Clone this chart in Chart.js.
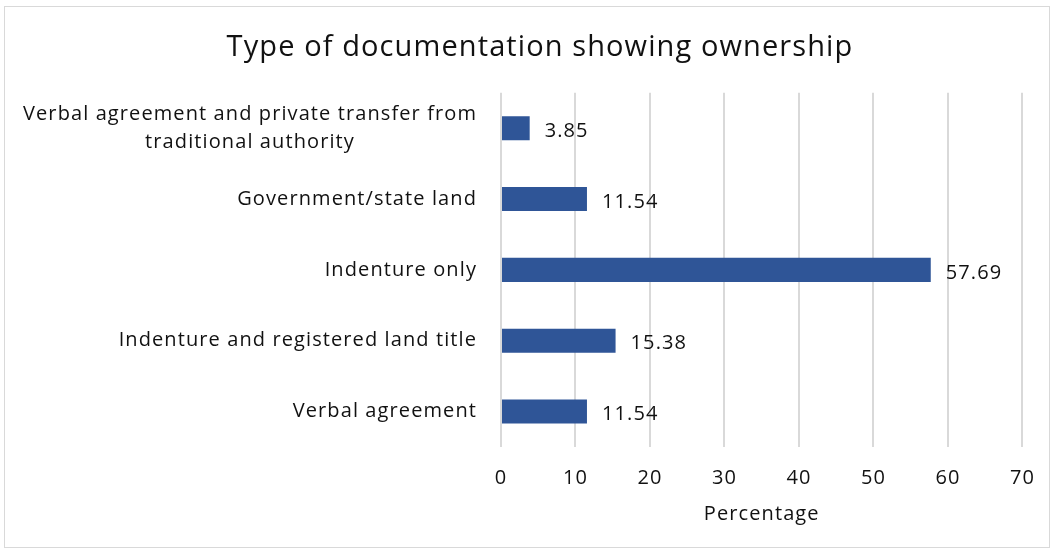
<!DOCTYPE html>
<html>
<head>
<meta charset="utf-8">
<script src="https://cdn.jsdelivr.net/npm/chart.js@4/dist/chart.umd.min.js"></script>
<style>
  html,body{margin:0;padding:0;background:#fff;}
  #wrap{position:absolute;left:0;top:0;width:1054px;height:552px;}
  #frame{position:absolute;left:4px;top:6px;width:1046px;height:542px;border:1px solid #d9d9d9;box-sizing:border-box;pointer-events:none;}
</style>
</head>
<body>
<div id="wrap"><canvas id="c" width="1054" height="552"></canvas></div>
<div id="frame"></div>
<script>
// ── data ──
var categories=[
  ['Verbal agreement and private transfer from','traditional authority'],
  ['Government/state land'],
  ['Indenture only'],
  ['Indenture and registered land title'],
  ['Verbal agreement']
];
var values=[3.85,11.54,57.69,15.38,11.54];
var xTicks=[0,10,20,30,40,50,60,70];

var FONT='"Open Sans", sans-serif';
var BAR='#2f5597';
var SPACING='1.1px';

/* the reference text is a little wider than Open Sans, so open it up a touch */
var spacing={
  id:'spacing',
  beforeLayout:function(ch){ch.ctx.letterSpacing=SPACING;},
  beforeDraw:function(ch){ch.ctx.letterSpacing=SPACING;}
};

/* category labels: single lines right-aligned, wrapped lines centred on each other */
var catLabels={
  id:'catLabels',
  afterDraw:function(ch){
    var ys=ch.scales.y,ctx=ch.ctx,right=477,lh=28;
    ctx.save();
    ctx.letterSpacing=SPACING;
    ctx.font='20px '+FONT;ctx.fillStyle='#111';ctx.textBaseline='middle';
    categories.forEach(function(lines,i){
      var yc=ys.getPixelForValue(i);
      var w=Math.max.apply(null,lines.map(function(s){return ctx.measureText(s).width;}));
      var cx=right-w/2;
      lines.forEach(function(s,k){
        var y=yc+(k-(lines.length-1)/2)*lh;
        ctx.textAlign='center';
        ctx.fillText(s,cx,y);
      });
    });
    ctx.restore();
  }
};

/* value labels just past the end of each bar */
var valLabels={
  id:'valLabels',
  afterDatasetsDraw:function(ch){
    var ctx=ch.ctx,meta=ch.getDatasetMeta(0);
    ctx.save();
    ctx.letterSpacing=SPACING;
    ctx.font='20px '+FONT;ctx.fillStyle='#111';ctx.textAlign='left';ctx.textBaseline='middle';
    meta.data.forEach(function(b,i){
      ctx.fillText(values[i].toFixed(2),b.x+15,b.y+3);
    });
    ctx.restore();
  }
};

new Chart(document.getElementById('c'),{
  type:'bar',
  data:{
    labels:categories.map(function(l){return l.join(' ');}),
    datasets:[{data:values,backgroundColor:BAR,borderWidth:0,categoryPercentage:1,barPercentage:0.34}]
  },
  options:{
    indexAxis:'y',
    responsive:false,
    animation:false,
    layout:{padding:{left:53,right:27,top:0,bottom:0}},
    plugins:{
      legend:{display:false},
      tooltip:{enabled:false},
      title:{display:true,text:'Type of documentation showing ownership',color:'#111',
        font:{family:FONT,size:29,weight:'normal'},padding:{top:30,bottom:28}}
    },
    scales:{
      x:{
        min:0,max:70,
        afterBuildTicks:function(s){s.ticks=xTicks.map(function(v){return{value:v};});},
        grid:{color:'#d9d9d9',lineWidth:2,drawTicks:false},
        border:{display:false},
        ticks:{color:'#111',font:{family:FONT,size:20},padding:19},
        title:{display:true,text:'Percentage',color:'#111',font:{family:FONT,size:20},padding:{top:0,bottom:26}},
        afterFit:function(s){s.height=105;}
      },
      y:{
        grid:{display:false},
        border:{display:false},
        ticks:{display:false},
        afterFit:function(s){s.width=448;}
      }
    }
  },
  plugins:[spacing,catLabels,valLabels]
});
</script>
</body>
</html>
